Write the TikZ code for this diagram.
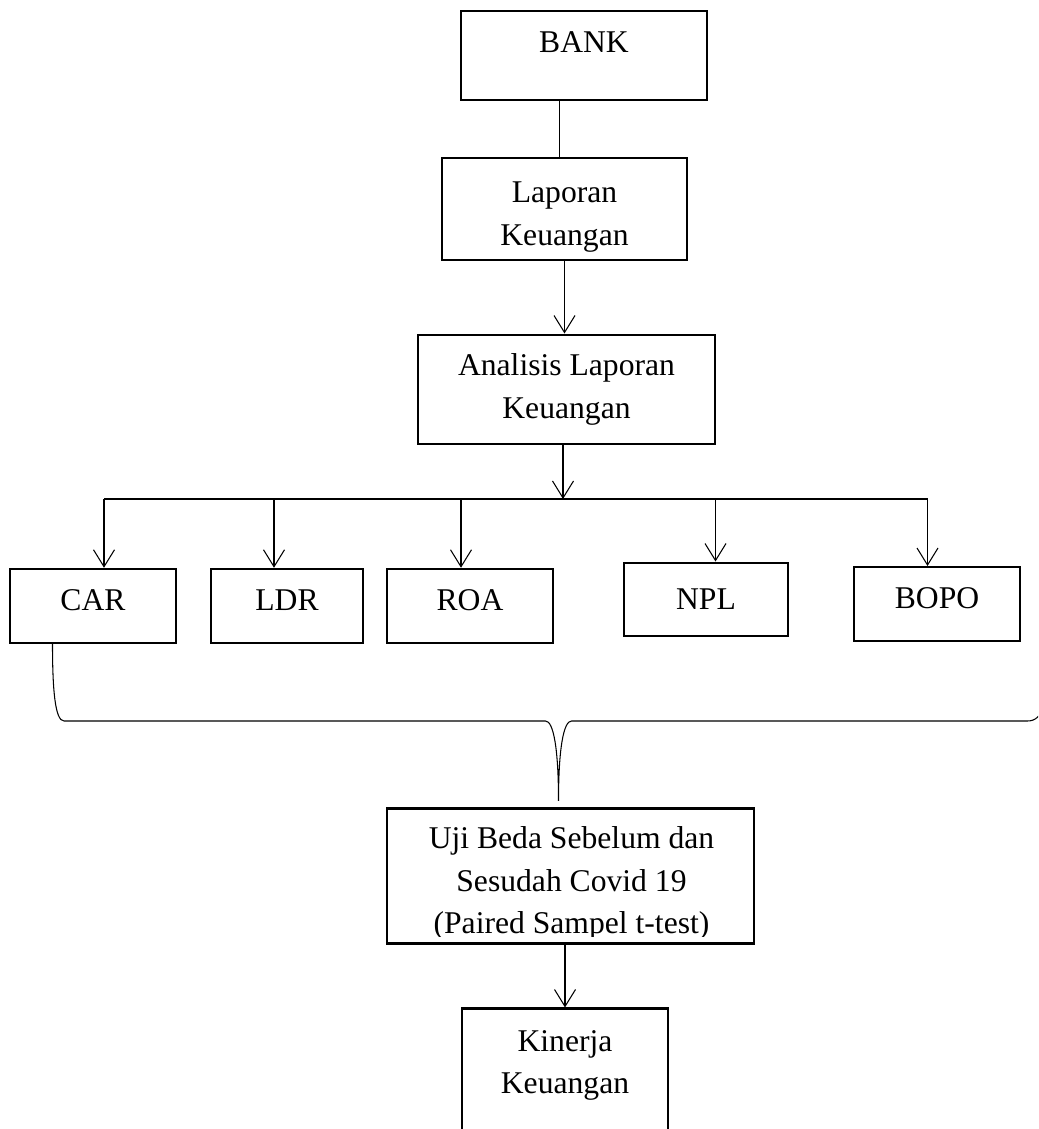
\documentclass[tikz,border=0pt]{standalone}
\usepackage{fontspec}
\setmainfont{Liberation Serif}
\usetikzlibrary{arrows.meta}

\tikzset{
  kotak/.style={draw=black, line width=1.4pt, inner sep=0pt, align=center},
  atas/.style={text depth=0.24cm},
  garis/.style={draw=black, line width=0.6pt},
  panah/.style={garis, -{Straight Barb[length=0.34cm, width=0.42cm, line width=0.6pt]}},
  teks/.style={inner sep=0pt, align=center}
}

\begin{document}
\begin{tikzpicture}[font=\fontsize{18}{24}\selectfont]

\useasboundingbox (0,0) rectangle (20.76,22.58);
\clip (0,0) rectangle (20.76,22.58);

\node[kotak, minimum width=4.93cm, minimum height=1.78cm, text depth=0.52cm] (bank) at (11.68,21.47) {BANK};
\node[kotak, minimum width=4.91cm, minimum height=2.03cm] (laporan) at (11.29,18.40) {};
\node[teks] (laporanteks) at (11.29,18.24) {Laporan\\Keuangan};
\node[kotak, minimum width=5.93cm, minimum height=2.19cm] (analisis) at (11.33,14.79) {Analisis Laporan\\Keuangan};

\node[kotak, atas, minimum width=3.32cm, minimum height=1.48cm] (car) at (1.86,10.46) {CAR};
\node[kotak, atas, minimum width=3.04cm, minimum height=1.48cm] (ldr) at (5.74,10.46) {LDR};
\node[kotak, atas, minimum width=3.32cm, minimum height=1.48cm] (roa) at (9.40,10.46) {ROA};
\node[kotak, minimum width=3.28cm, minimum height=1.47cm] (npl) at (14.12,10.59) {NPL};
\node[kotak, atas, minimum width=3.32cm, minimum height=1.47cm] (bopo) at (18.74,10.50) {BOPO};

\node[kotak, minimum width=7.35cm, minimum height=2.70cm] (uji) at (11.41,5.06) {};
\begin{scope}
  \clip (uji.north west) rectangle ([yshift=0.17cm]uji.south east);
  \node[teks] (ujiteks) at (11.43,4.91) {Uji Beda Sebelum dan\\Sesudah Covid 19\\(Paired Sampel t-test)};
\end{scope}

\node[kotak, minimum width=4.13cm, minimum height=3cm, anchor=north] (kinerja) at (11.30,2.43) {};
\node[teks] (kinerjateks) at (11.30,1.27) {Kinerja\\Keuangan};

\coordinate (bankbawah) at ([xshift=-0.49cm]bank.south);
\draw[garis] (bankbawah) -- (bankbawah |- laporan.north);
\draw[panah] (laporan.south) -- (laporan.south |- analisis.north);

\coordinate (cabang) at (11.26,12.60);
\draw[panah] (analisis.south -| cabang) -- (cabang);
\draw[garis] (2.08,12.60) -- (18.55,12.60);
\foreach \n/\x in {car/2.08, ldr/5.48, roa/9.22, npl/14.31, bopo/18.55}
  \draw[panah] (\x,12.60) coordinate (a) -- (a |- \n.north);

\coordinate (ujung) at (11.17,6.56);
\draw[garis] ([xshift=-0.81cm]car.south) .. controls (1.05,8.8) and (1.10,8.16) .. (1.28,8.16)
  -- (10.91,8.16) .. controls (11.07,8.16) and (11.17,7.6) .. (ujung)
  .. controls (11.17,7.6) and (11.27,8.16) .. (11.43,8.16)
  -- (20.55,8.16) .. controls (20.85,8.16) and (21.0,8.5) .. (21.0,9.72);

\draw[panah] (uji.south -| kinerja.north) -- (kinerja.north);

\end{tikzpicture}
\end{document}
